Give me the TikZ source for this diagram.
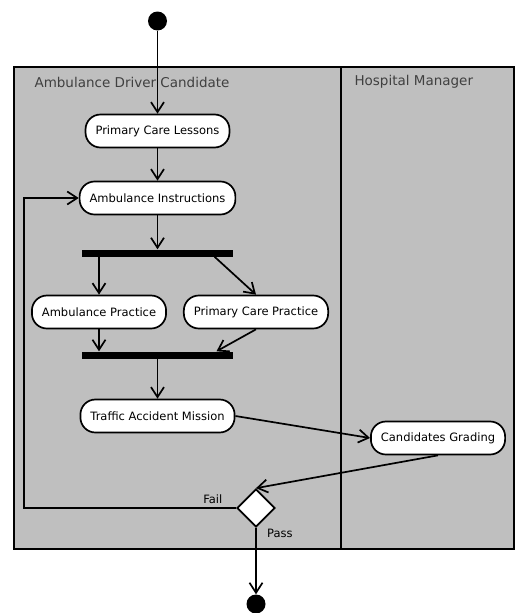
\documentclass[tikz,border=0pt]{standalone}
\usepackage{fontspec}
\setmainfont{DejaVu Sans}
\usetikzlibrary{arrows.meta, positioning, shapes.geometric}

\begin{document}
\begin{tikzpicture}[x=1pt, y=-1pt,
                    action/.style={
                        draw,
                        rounded corners=15pt,
                        fill=white,
                        line width=1.7pt,
                        minimum height=33pt,
                        inner xsep=10pt,
                        font=\fontsize{11.5}{13}\selectfont
                    },
                    bar/.style={
                        fill=black,
                        minimum width=151pt,
                        minimum height=7pt,
                        inner sep=0pt
                    },
                    decision/.style={
                        diamond,
                        draw,
                        fill=white,
                        line width=1.7pt,
                        minimum width=38pt,
                        minimum height=38pt,
                        inner sep=0pt
                    },
                    dot/.style={
                        circle,
                        fill=black,
                        minimum size=19pt,
                        inner sep=0pt
                    },
                    arrow/.style={
                        -{Straight Barb[length=10pt,width=13pt]},
                        line width=1.7pt
                    },
                    lane/.style={
                        draw,
                        fill=black!25,
                        line width=1.8pt
                    },
                    lanelabel/.style={
                        anchor=west,
                        text=black!75,
                        font=\fontsize{13.5}{16}\selectfont
                    },
                    guard/.style={
                        font=\fontsize{11.5}{13}\selectfont
                    }
                ]

                \useasboundingbox (0,0) rectangle (515,613);

                % Couloirs
                \draw[lane] (14,67) rectangle (514,549);
                \draw[lane] (341,67) -- (341,549);
                \node[lanelabel] (candlane) at (31,82) {Ambulance Driver Candidate};
                \node[lanelabel] (hosplane) at (351,82) {Hospital Manager};

                % Activities
                \node[dot] (start) at (157.5,21) {};
                \node[action] (lessons) at (157.5,131) {Primary Care Lessons};
                \node[action] (instr) at (157.5,198) {Ambulance Instructions};
                \node[bar] (fork) at (157.5,253) {};
                \node[action] (ambprac) at (99,312) {Ambulance Practice};
                \node[action] (careprac) at (256,312) {Primary Care Practice};
                \node[bar] (join) at (157.5,355) {};
                \node[action] (mission) at (157.5,416) {Traffic Accident Mission};
                \node[action] (grading) at (438,438) {Candidates Grading};
                \node[decision] (decide) at (256,508) {};
                \node[dot] (stop) at (256,604) {};

                % Transitions
                \draw[arrow] (start) -- (lessons);
                \draw[arrow] (lessons) -- (instr);
                \draw[arrow] (instr) -- (fork);
                \draw[arrow] (fork.south -| ambprac) -- (ambprac);
                \draw[arrow] ([xshift=57pt]fork.south) -- (careprac.north);
                \draw[arrow] (ambprac) -- (ambprac |- join.north);
                \draw[arrow] (careprac.south) -- ([xshift=59pt]join.north);
                \draw[arrow] (join) -- (mission);
                \draw[arrow] (mission.east) -- (grading.west);
                \draw[arrow] (grading.south) -- (decide.north);
                \draw[arrow] (decide.south) -- node[guard, pos=0.09, anchor=west, xshift=7pt] {Pass} (stop.north);
                \draw[arrow] (decide.west) -- node[guard, pos=0.11, above] {Fail} ++(-212,0) |- (instr.west);

            \end{tikzpicture}
\end{document}
